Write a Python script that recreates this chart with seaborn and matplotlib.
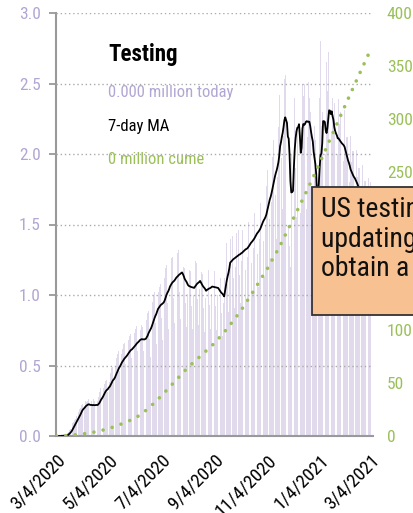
import numpy as np
import pandas as pd
import matplotlib
matplotlib.use("Agg")
import matplotlib.pyplot as plt
from matplotlib.patches import Rectangle
from matplotlib import font_manager
import seaborn as sns

# ---------------- data ----------------
start_date = "2020-03-04"
# daily US tests (millions), one row per week starting Wednesday
daily_tests = [
    0.00, 0.00, 0.00, 0.00, 0.00, 0.00, 0.01,
    0.00, 0.00, 0.01, 0.00, 0.00, 0.01, 0.02,
    0.03, 0.04, 0.05, 0.05, 0.06, 0.09, 0.10,
    0.11, 0.12, 0.14, 0.13, 0.12, 0.17, 0.19,
    0.20, 0.22, 0.23, 0.19, 0.17, 0.21, 0.25,
    0.24, 0.25, 0.26, 0.19, 0.15, 0.20, 0.25,
    0.23, 0.26, 0.25, 0.19, 0.16, 0.20, 0.25,
    0.28, 0.31, 0.34, 0.27, 0.22, 0.27, 0.34,
    0.37, 0.39, 0.40, 0.31, 0.26, 0.34, 0.38,
    0.45, 0.48, 0.49, 0.38, 0.31, 0.41, 0.49,
    0.55, 0.58, 0.60, 0.46, 0.37, 0.50, 0.58,
    0.62, 0.65, 0.66, 0.51, 0.42, 0.55, 0.65,
    0.68, 0.71, 0.72, 0.55, 0.45, 0.60, 0.70,
    0.73, 0.76, 0.78, 0.60, 0.49, 0.64, 0.76,
    0.75, 0.79, 0.77, 0.60, 0.48, 0.66, 0.78,
    0.82, 0.87, 0.89, 0.69, 0.56, 0.74, 0.89,
    0.95, 1.00, 1.02, 0.80, 0.65, 0.86, 1.02,
    1.02, 1.06, 1.08, 0.84, 0.68, 0.90, 1.07,
    1.12, 1.19, 1.21, 0.94, 0.76, 1.00, 1.20,
    1.20, 1.26, 1.27, 0.98, 0.80, 1.06, 1.27,
    1.25, 1.30, 1.32, 1.02, 0.83, 1.10, 1.30,
    1.17, 1.20, 1.19, 0.94, 0.77, 1.01, 1.21,
    1.13, 1.18, 1.17, 0.92, 0.76, 1.00, 1.19,
    1.19, 1.24, 1.23, 0.97, 0.79, 1.04, 1.24,
    1.11, 1.16, 1.15, 0.91, 0.74, 0.98, 1.16,
    1.15, 1.19, 1.18, 0.93, 0.76, 1.01, 1.20,
    1.14, 1.18, 1.17, 0.92, 0.75, 1.00, 1.19,
    1.07, 1.10, 1.12, 0.87, 0.71, 0.94, 1.12,
    1.33, 1.38, 1.37, 1.08, 0.88, 1.17, 1.40,
    1.37, 1.43, 1.42, 1.12, 0.91, 1.20, 1.44,
    1.40, 1.46, 1.46, 1.14, 0.94, 1.24, 1.46,
    1.45, 1.50, 1.50, 1.18, 0.96, 1.27, 1.52,
    1.51, 1.57, 1.57, 1.23, 1.01, 1.33, 1.58,
    1.59, 1.65, 1.65, 1.29, 1.06, 1.40, 1.65,
    1.70, 1.76, 1.76, 1.38, 1.13, 1.49, 1.77,
    1.89, 1.96, 1.96, 1.54, 1.26, 1.66, 1.98,
    2.10, 2.17, 2.17, 1.71, 1.40, 1.84, 2.19,
    2.42, 2.65, 2.37, 1.97, 1.61, 2.13, 2.53,
    2.56, 2.50, 2.24, 1.30, 1.50, 1.35, 1.20,
    2.00, 2.52, 2.30, 2.45, 2.40, 1.90, 1.55,
    2.18, 2.55, 2.45, 1.85, 1.58, 2.15, 2.50,
    2.41, 2.50, 2.50, 1.96, 1.61, 2.12, 2.51,
    2.40, 2.30, 2.20, 1.70, 1.40, 1.60, 2.20,
    2.10, 1.80, 1.00, 2.00, 1.83, 2.40, 2.80,
    2.20, 2.30, 2.10, 2.00, 1.79, 2.00, 2.65,
    2.45, 2.72, 2.56, 1.98, 1.62, 2.14, 2.40,
    2.28, 2.36, 2.36, 1.86, 1.52, 2.00, 2.39,
    2.21, 2.30, 2.30, 1.80, 1.48, 1.95, 2.31,
    2.04, 2.12, 2.12, 1.66, 1.36, 1.80, 2.13,
    1.94, 2.02, 2.02, 1.58, 1.30, 1.71, 2.03,
    1.84, 1.90, 1.90, 1.50, 1.22, 1.62, 1.92,
    1.75, 1.81, 1.81, 1.43, 1.17, 1.54, 1.83,
    1.74, 1.80,
]

# cumulative tests (millions)
cume_dates = ["2020-03-04", "2020-03-19", "2020-04-04", "2020-04-19", "2020-05-04",
              "2020-05-19", "2020-06-04", "2020-06-19", "2020-07-04", "2020-07-19",
              "2020-08-04", "2020-08-19", "2020-09-04", "2020-09-19", "2020-10-04",
              "2020-10-19", "2020-11-04", "2020-11-19", "2020-12-04", "2020-12-19",
              "2021-01-04", "2021-01-19", "2021-02-04", "2021-02-19", "2021-03-04"]
cume_values = [0, 0.5, 2, 4, 7, 11.5, 17, 26, 38, 51, 65, 76, 88, 102, 118,
               137, 158, 180, 205, 230, 258, 286, 315, 342, 365]

tick_dates = ["2020-03-04", "2020-05-04", "2020-07-04", "2020-09-04",
              "2020-11-04", "2021-01-04", "2021-03-04"]
tick_labels = ["3/4/2020", "5/4/2020", "7/4/2020", "9/4/2020",
               "11/4/2020", "1/4/2021", "3/4/2021"]
left_ticks = [0.0, 0.5, 1.0, 1.5, 2.0, 2.5, 3.0]
right_ticks = [0, 50, 100, 150, 200, 250, 300, 350, 400]

title_text = "Testing"
today_text = "0.000 million today"
ma_text = "7-day MA"
cume_text = "0 million cume"
note_text = "US testing data has stopped\nupdating; we are unable to\nobtain a reliable source."

# ---------------- style ----------------
sns.set_style("white")
names = {f.name for f in font_manager.fontManager.ttflist}
narrow = [n for n in ["Liberation Sans Narrow", "Roboto Condensed", "Open Sans Condensed",
                      "DejaVu Sans Condensed"] if n in names]
FONT = narrow + ["DejaVu Sans"]
plt.rcParams["font.family"] = FONT
plt.rcParams["font.stretch"] = "condensed"

LAV = "#B2A6D4"
BAR = "#E0DAEC"
GREEN = "#9BC05A"
GREY = "#999999"

df = pd.DataFrame({"date": pd.date_range(start_date, periods=len(daily_tests), freq="D"),
                   "tests": daily_tests})
df["ma"] = df["tests"].rolling(7, min_periods=1).mean()
cume_df = pd.DataFrame({"date": pd.to_datetime(cume_dates), "cume": cume_values})

fig = plt.figure(figsize=(4.14, 5.13), dpi=100)
W, H = 414, 513
x0, x1, y0, y1 = 56, 373, 13, 436
ax = fig.add_axes([x0 / W, 1 - y1 / H, (x1 - x0) / W, (y1 - y0) / H])

ax.bar(df["date"], df["tests"], width=0.75, color=BAR, linewidth=0, zorder=1)
sns.lineplot(data=df, x="date", y="ma", ax=ax, color="black", lw=1.3, zorder=3)

ax.set_ylim(0, 3)
ax.set_yticks(left_ticks)
ax.set_yticklabels([f"{t:.1f}" for t in left_ticks])
start = pd.Timestamp(start_date)
ax.set_xlim(start - pd.Timedelta(days=0.5), start + pd.Timedelta(days=368))
ax.set_xticks(pd.to_datetime(tick_dates))
ax.set_xticklabels(tick_labels, rotation=45, ha="right", rotation_mode="anchor")
ax.set_xlabel("")
ax.set_ylabel("")
ax.yaxis.grid(True, color="#AAAAAA", linestyle=(0, (1, 2)), lw=1)
ax.set_axisbelow(False)
for s in ["top", "right"]:
    ax.spines[s].set_visible(False)
for s in ["left", "bottom"]:
    ax.spines[s].set_color(GREY)
    ax.spines[s].set_linewidth(1.5)
ax.tick_params(axis="y", color=GREY, labelcolor=LAV, length=5, width=1.3, labelsize=12.5, pad=6)
ax.tick_params(axis="x", color=GREY, labelcolor="black", length=5, width=1.3, labelsize=13.5, pad=6)

ax2 = ax.twinx()
sns.lineplot(data=cume_df, x="date", y="cume", ax=ax2, color=GREEN, lw=2.6,
             linestyle=(0, (0.01, 2.6)), dash_capstyle="round", zorder=4)
ax2.set_ylim(0, 400)
ax2.set_yticks(right_ticks)
ax2.set_yticklabels([str(t) for t in right_ticks])
ax2.set_ylabel("")
for s in ax2.spines.values():
    s.set_visible(False)
ax2.tick_params(axis="y", length=0, labelcolor=GREEN, labelsize=12.5, pad=10)

# legend-like texts
tx = (108 - x0) / (x1 - x0)
ax.text(tx, (y1 - 55) / (y1 - y0), title_text, transform=ax.transAxes, fontsize=16.5,
        fontweight="heavy", color="black", va="center", ha="left")
ax.text(tx, (y1 - 92) / (y1 - y0), today_text, transform=ax.transAxes, fontsize=12,
        color=LAV, va="center", ha="left")
ax.text(tx, (y1 - 127) / (y1 - y0), ma_text, transform=ax.transAxes, fontsize=12,
        color="black", va="center", ha="left")
ax.text(tx, (y1 - 160) / (y1 - y0), cume_text, transform=ax.transAxes, fontsize=12,
        color=GREEN, va="center", ha="left")

# note box
bx0, by0, by1 = 312, 187, 315
fig.add_artist(Rectangle((bx0 / W, 1 - by1 / H), 0.5, (by1 - by0) / H,
                         transform=fig.transFigure, facecolor="#F8C191",
                         edgecolor="#333333", lw=1.3, zorder=10))
fig.text(321 / W, 1 - 196 / H, note_text, fontsize=20, color="#111111",
         va="top", ha="left", linespacing=1.12, zorder=11)

fig.savefig("out.png", dpi=100)
